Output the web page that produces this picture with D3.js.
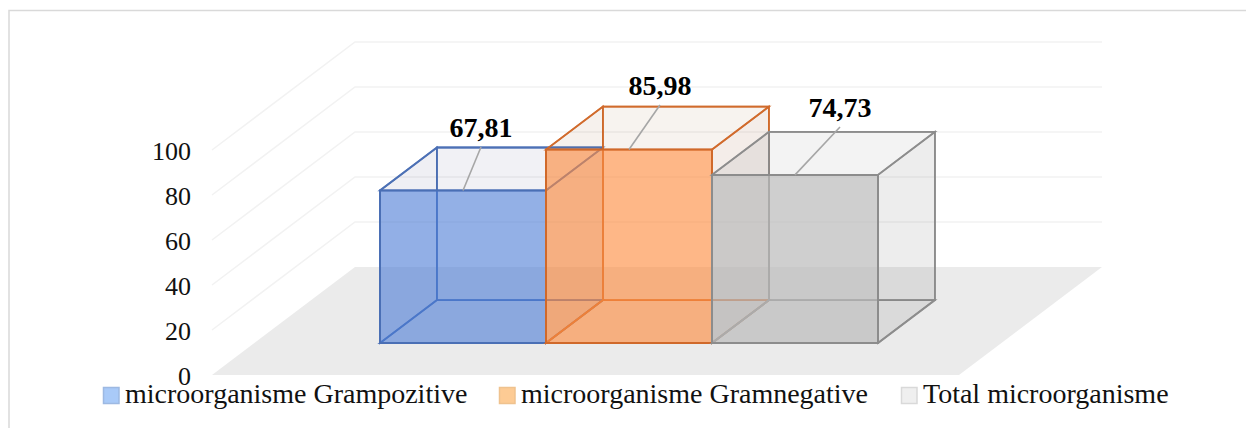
<!DOCTYPE html>
<html>
<head>
<meta charset="utf-8">
<script src="https://cdn.jsdelivr.net/npm/d3@7"></script>
<style>
  html, body { margin: 0; padding: 0; background: #fff; overflow: hidden; }
  svg { display: block; font-family: "Liberation Serif", "Times New Roman", serif; }
</style>
</head>
<body>
<svg id="chart" width="1246" height="428"></svg>
<script>
var categories = ['microorganisme Grampozitive', 'microorganisme Gramnegative', 'Total microorganisme'];
var values = [67.81, 85.98, 74.73];
var valueLabels = ['67,81', '85,98', '74,73'];
var yTicks = [0, 20, 40, 60, 80, 100];

// front face fill, edge colour, legend swatch
var faceFills = ['rgba(74,124,216,0.58)', 'rgba(255,142,66,0.62)', 'rgba(187,187,187,0.67)'];
var edgeColors = ['#4a6fb5', '#d0692a', '#8c8c8c'];
var wallTints = ['rgb(70,85,130)', 'rgb(150,90,50)', 'rgb(90,90,90)'];
var swatchFills = ['#a9caf8', '#fdcb94', '#efefef'];
var swatchEdges = ['#9db9e2', '#efc28e', '#d9d9d9'];

var svg = d3.select('#chart');

// oblique projection: depth 0 = front of the floor, depth 1 = back wall
var DX = 143, DY = -108;
var depthFront = 0.296, depthBack = 0.694;

var y = d3.scaleLinear().domain([0, 100]).range([375, 150]);
var floorX = d3.scaleLinear().domain([0, 1]).range([212, 959]);
// x is measured at depth 0, pt() shifts it back by the bar's depth
var frontShift = depthFront * DX;
var x = d3.scaleBand().domain(categories).range([380 - frontShift, 878 - frontShift]);

function pt(px, value, depth) {
    return [px + depth * DX, y(value) + depth * DY];
}
function pathOf(points) {
    return 'M' + points.map(function (p) { return p[0] + ',' + p[1]; }).join('L') + 'Z';
}

// frame runs off the right and bottom of the picture
svg.append('rect')
    .attr('x', 9).attr('y', 10.5).attr('width', 1300).attr('height', 460)
    .attr('fill', '#fff').attr('stroke', '#d9d9d9').attr('stroke-width', 1.5);

// floor
svg.append('path')
    .attr('d', pathOf([
        pt(floorX(0), 0, 0), pt(floorX(1), 0, 0),
        pt(floorX(1), 0, 1), pt(floorX(0), 0, 1)
    ]))
    .attr('fill', '#ebebeb');

// gridlines: side wall then back wall
svg.append('g').selectAll('path')
    .data(yTicks.filter(function (t) { return t > 0; }))
    .join('path')
    .attr('d', function (t) {
        var a = pt(floorX(0), t, 0), b = pt(floorX(0), t, 1), c = pt(floorX(1), t, 1);
        return 'M' + a + 'L' + b + 'L' + c;
    })
    .attr('fill', 'none')
    .attr('stroke', '#f2f2f2')
    .attr('stroke-width', 1.5);

// value axis
var axis = svg.append('g')
    .attr('transform', 'translate(194,1)')
    .call(d3.axisLeft(y).tickValues(yTicks).tickSize(0).tickPadding(3));
axis.select('.domain').remove();
axis.selectAll('text')
    .attr('font-family', '"Liberation Serif", serif')
    .attr('font-size', 26)
    .attr('fill', '#111');

// bars
var bars = svg.append('g').selectAll('g').data(categories).join('g');
bars.each(function (cat, i) {
    var g = d3.select(this);
    var x0 = x(cat), x1 = x0 + x.bandwidth(), v = values[i];
    var fb = pt(x0, 0, depthFront), fbr = pt(x1, 0, depthFront);
    var ft = pt(x0, v, depthFront), ftr = pt(x1, v, depthFront);
    var bb = pt(x0, 0, depthBack), bbr = pt(x1, 0, depthBack);
    var bt = pt(x0, v, depthBack), btr = pt(x1, v, depthBack);
    var faces = [
        { pts: [bb, bbr, btr, bt], a: 0.04 },   // back
        { pts: [fb, bb, bt, ft], a: 0.05 },     // left
        { pts: [fb, fbr, bbr, bb], a: 0.04 },   // bottom
        { pts: [ft, ftr, btr, bt], a: 0.04 },   // top
        { pts: [fbr, bbr, btr, ftr], a: 0.07 }  // right
    ];
    g.selectAll('path.wall').data(faces).join('path')
        .attr('class', 'wall')
        .attr('d', function (f) { return pathOf(f.pts); })
        .attr('fill', wallTints[i])
        .attr('fill-opacity', function (f) { return f.a; })
        .attr('stroke', edgeColors[i])
        .attr('stroke-opacity', 0.9)
        .attr('stroke-width', 1.8);
    g.append('path')
        .attr('d', pathOf([fb, fbr, ftr, ft]))
        .attr('fill', faceFills[i])
        .attr('stroke', edgeColors[i])
        .attr('stroke-width', 2);
});

// data labels with leader lines
var labelX = [481, 660, 840];
var labelY = [137, 95, 117];
var labels = svg.append('g').selectAll('g').data(categories).join('g');
labels.append('line')
    .attr('x1', function (d, i) { return pt(x(d) + x.bandwidth() / 2, 0, depthFront)[0]; })
    .attr('y1', function (d, i) { return pt(0, values[i], depthFront)[1]; })
    .attr('x2', function (d, i) { return labelX[i]; })
    .attr('y2', function (d, i) { return labelY[i] + 10; })
    .attr('stroke', '#a6a6a6')
    .attr('stroke-width', 1.6);
labels.append('text')
    .attr('x', function (d, i) { return labelX[i]; })
    .attr('y', function (d, i) { return labelY[i]; })
    .attr('text-anchor', 'middle')
    .attr('font-size', 28)
    .attr('font-weight', 700)
    .attr('fill', '#000')
    .text(function (d, i) { return valueLabels[i]; });

// legend
var legendX = [103, 499, 901];
var legend = svg.append('g').selectAll('g').data(categories).join('g')
    .attr('transform', function (d, i) { return 'translate(' + legendX[i] + ',387)'; });
legend.append('rect')
    .attr('x', 0.5).attr('y', 0.5).attr('width', 15.5).attr('height', 16)
    .attr('fill', function (d, i) { return swatchFills[i]; })
    .attr('stroke', function (d, i) { return swatchEdges[i]; })
    .attr('stroke-width', 1.5);
legend.append('text')
    .attr('x', 22).attr('y', 16)
    .attr('font-size', 28)
    .attr('fill', '#111')
    .text(function (d) { return d; });
</script>
</body>
</html>
